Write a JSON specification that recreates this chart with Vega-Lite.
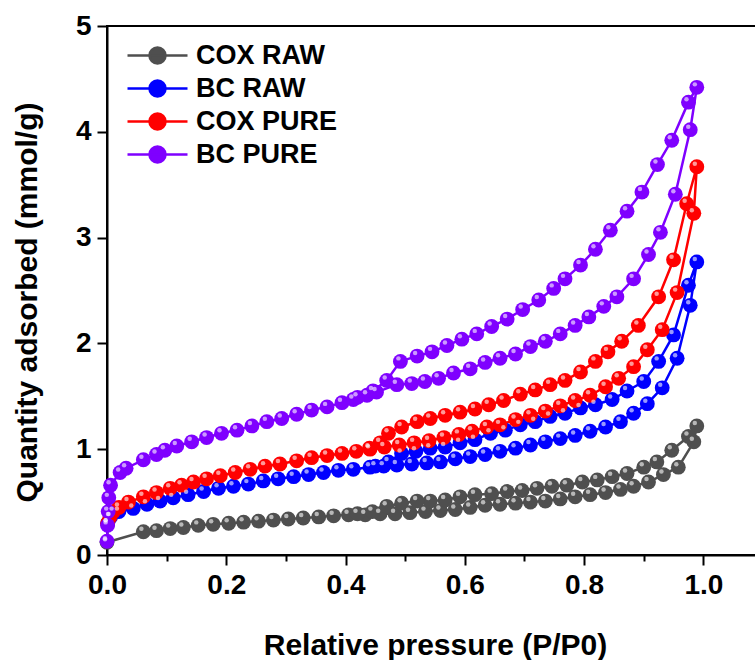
{
"$schema":"https://vega.github.io/schema/vega-lite/v6.json",
"width":656,"height":529,
"autosize":{"type":"none"},
"padding":{"left":107,"top":26,"right":0,"bottom":105},
"background":"white",
"datasets":{"iso":[
{"s":"COX RAW","o":1,"x":0.000,"y":0.12},{"s":"COX RAW","o":2,"x":0.061,"y":0.22},{"s":"COX RAW","o":3,"x":0.083,"y":0.23},{"s":"COX RAW","o":4,"x":0.106,"y":0.25},{"s":"COX RAW","o":5,"x":0.128,"y":0.26},{"s":"COX RAW","o":6,"x":0.153,"y":0.28},{"s":"COX RAW","o":7,"x":0.178,"y":0.29},{"s":"COX RAW","o":8,"x":0.204,"y":0.30},{"s":"COX RAW","o":9,"x":0.229,"y":0.31},{"s":"COX RAW","o":10,"x":0.254,"y":0.32},{"s":"COX RAW","o":11,"x":0.279,"y":0.33},{"s":"COX RAW","o":12,"x":0.304,"y":0.34},{"s":"COX RAW","o":13,"x":0.329,"y":0.35},{"s":"COX RAW","o":14,"x":0.355,"y":0.36},{"s":"COX RAW","o":15,"x":0.380,"y":0.37},{"s":"COX RAW","o":16,"x":0.405,"y":0.38},{"s":"COX RAW","o":17,"x":0.433,"y":0.38},{"s":"COX RAW","o":18,"x":0.458,"y":0.39},{"s":"COX RAW","o":19,"x":0.483,"y":0.39},{"s":"COX RAW","o":20,"x":0.508,"y":0.40},{"s":"COX RAW","o":21,"x":0.534,"y":0.41},{"s":"COX RAW","o":22,"x":0.559,"y":0.42},{"s":"COX RAW","o":23,"x":0.584,"y":0.43},{"s":"COX RAW","o":24,"x":0.609,"y":0.45},{"s":"COX RAW","o":25,"x":0.634,"y":0.47},{"s":"COX RAW","o":26,"x":0.659,"y":0.48},{"s":"COX RAW","o":27,"x":0.685,"y":0.49},{"s":"COX RAW","o":28,"x":0.710,"y":0.50},{"s":"COX RAW","o":29,"x":0.735,"y":0.51},{"s":"COX RAW","o":30,"x":0.760,"y":0.53},{"s":"COX RAW","o":31,"x":0.785,"y":0.55},{"s":"COX RAW","o":32,"x":0.810,"y":0.57},{"s":"COX RAW","o":33,"x":0.836,"y":0.59},{"s":"COX RAW","o":34,"x":0.861,"y":0.62},{"s":"COX RAW","o":35,"x":0.883,"y":0.65},{"s":"COX RAW","o":36,"x":0.908,"y":0.69},{"s":"COX RAW","o":37,"x":0.933,"y":0.76},{"s":"COX RAW","o":38,"x":0.958,"y":0.83},{"s":"COX RAW","o":39,"x":0.984,"y":1.07},{"s":"COX RAW","o":40,"x":0.989,"y":1.22},
{"s":"COX RAW","o":41,"x":0.975,"y":1.12},{"s":"COX RAW","o":42,"x":0.947,"y":0.99},{"s":"COX RAW","o":43,"x":0.922,"y":0.88},{"s":"COX RAW","o":44,"x":0.900,"y":0.83},{"s":"COX RAW","o":45,"x":0.872,"y":0.77},{"s":"COX RAW","o":46,"x":0.847,"y":0.74},{"s":"COX RAW","o":47,"x":0.822,"y":0.71},{"s":"COX RAW","o":48,"x":0.797,"y":0.69},{"s":"COX RAW","o":49,"x":0.771,"y":0.66},{"s":"COX RAW","o":50,"x":0.746,"y":0.65},{"s":"COX RAW","o":51,"x":0.721,"y":0.63},{"s":"COX RAW","o":52,"x":0.696,"y":0.61},{"s":"COX RAW","o":53,"x":0.671,"y":0.60},{"s":"COX RAW","o":54,"x":0.645,"y":0.58},{"s":"COX RAW","o":55,"x":0.617,"y":0.57},{"s":"COX RAW","o":56,"x":0.592,"y":0.55},{"s":"COX RAW","o":57,"x":0.567,"y":0.52},{"s":"COX RAW","o":58,"x":0.542,"y":0.51},{"s":"COX RAW","o":59,"x":0.520,"y":0.51},{"s":"COX RAW","o":60,"x":0.494,"y":0.49},{"s":"COX RAW","o":61,"x":0.469,"y":0.46},{"s":"COX RAW","o":62,"x":0.445,"y":0.41},{"s":"COX RAW","o":63,"x":0.420,"y":0.39},
{"s":"BC RAW","o":1,"x":0.001,"y":0.30},{"s":"BC RAW","o":2,"x":0.006,"y":0.36},{"s":"BC RAW","o":3,"x":0.020,"y":0.41},{"s":"BC RAW","o":4,"x":0.044,"y":0.44},{"s":"BC RAW","o":5,"x":0.067,"y":0.48},{"s":"BC RAW","o":6,"x":0.089,"y":0.51},{"s":"BC RAW","o":7,"x":0.111,"y":0.54},{"s":"BC RAW","o":8,"x":0.136,"y":0.57},{"s":"BC RAW","o":9,"x":0.162,"y":0.60},{"s":"BC RAW","o":10,"x":0.187,"y":0.63},{"s":"BC RAW","o":11,"x":0.212,"y":0.65},{"s":"BC RAW","o":12,"x":0.237,"y":0.67},{"s":"BC RAW","o":13,"x":0.262,"y":0.70},{"s":"BC RAW","o":14,"x":0.287,"y":0.72},{"s":"BC RAW","o":15,"x":0.313,"y":0.74},{"s":"BC RAW","o":16,"x":0.338,"y":0.76},{"s":"BC RAW","o":17,"x":0.363,"y":0.78},{"s":"BC RAW","o":18,"x":0.388,"y":0.80},{"s":"BC RAW","o":19,"x":0.413,"y":0.81},{"s":"BC RAW","o":20,"x":0.441,"y":0.83},{"s":"BC RAW","o":21,"x":0.464,"y":0.84},{"s":"BC RAW","o":22,"x":0.486,"y":0.85},{"s":"BC RAW","o":23,"x":0.511,"y":0.86},{"s":"BC RAW","o":24,"x":0.536,"y":0.87},{"s":"BC RAW","o":25,"x":0.559,"y":0.88},{"s":"BC RAW","o":26,"x":0.584,"y":0.91},{"s":"BC RAW","o":27,"x":0.609,"y":0.93},{"s":"BC RAW","o":28,"x":0.634,"y":0.95},{"s":"BC RAW","o":29,"x":0.659,"y":0.98},{"s":"BC RAW","o":30,"x":0.685,"y":1.01},{"s":"BC RAW","o":31,"x":0.710,"y":1.04},{"s":"BC RAW","o":32,"x":0.735,"y":1.07},{"s":"BC RAW","o":33,"x":0.760,"y":1.10},{"s":"BC RAW","o":34,"x":0.785,"y":1.13},{"s":"BC RAW","o":35,"x":0.810,"y":1.17},{"s":"BC RAW","o":36,"x":0.836,"y":1.21},{"s":"BC RAW","o":37,"x":0.861,"y":1.26},{"s":"BC RAW","o":38,"x":0.883,"y":1.34},{"s":"BC RAW","o":39,"x":0.906,"y":1.43},{"s":"BC RAW","o":40,"x":0.931,"y":1.58},{"s":"BC RAW","o":41,"x":0.956,"y":1.86},{"s":"BC RAW","o":42,"x":0.978,"y":2.36},{"s":"BC RAW","o":43,"x":0.989,"y":2.77},
{"s":"BC RAW","o":44,"x":0.975,"y":2.55},{"s":"BC RAW","o":45,"x":0.950,"y":2.08},{"s":"BC RAW","o":46,"x":0.925,"y":1.83},{"s":"BC RAW","o":47,"x":0.900,"y":1.64},{"s":"BC RAW","o":48,"x":0.872,"y":1.55},{"s":"BC RAW","o":49,"x":0.847,"y":1.47},{"s":"BC RAW","o":50,"x":0.819,"y":1.42},{"s":"BC RAW","o":51,"x":0.794,"y":1.39},{"s":"BC RAW","o":52,"x":0.768,"y":1.34},{"s":"BC RAW","o":53,"x":0.743,"y":1.31},{"s":"BC RAW","o":54,"x":0.718,"y":1.26},{"s":"BC RAW","o":55,"x":0.693,"y":1.23},{"s":"BC RAW","o":56,"x":0.668,"y":1.18},{"s":"BC RAW","o":57,"x":0.643,"y":1.15},{"s":"BC RAW","o":58,"x":0.617,"y":1.09},{"s":"BC RAW","o":59,"x":0.592,"y":1.06},{"s":"BC RAW","o":60,"x":0.567,"y":1.02},{"s":"BC RAW","o":61,"x":0.542,"y":1.01},{"s":"BC RAW","o":62,"x":0.518,"y":0.98},{"s":"BC RAW","o":63,"x":0.494,"y":0.96},{"s":"BC RAW","o":64,"x":0.472,"y":0.88},{"s":"BC RAW","o":65,"x":0.450,"y":0.84},
{"s":"COX PURE","o":1,"x":0.001,"y":0.30},{"s":"COX PURE","o":2,"x":0.005,"y":0.36},{"s":"COX PURE","o":3,"x":0.011,"y":0.41},{"s":"COX PURE","o":4,"x":0.020,"y":0.45},{"s":"COX PURE","o":5,"x":0.036,"y":0.50},{"s":"COX PURE","o":6,"x":0.061,"y":0.55},{"s":"COX PURE","o":7,"x":0.083,"y":0.59},{"s":"COX PURE","o":8,"x":0.106,"y":0.63},{"s":"COX PURE","o":9,"x":0.125,"y":0.66},{"s":"COX PURE","o":10,"x":0.145,"y":0.69},{"s":"COX PURE","o":11,"x":0.167,"y":0.72},{"s":"COX PURE","o":12,"x":0.190,"y":0.75},{"s":"COX PURE","o":13,"x":0.215,"y":0.78},{"s":"COX PURE","o":14,"x":0.240,"y":0.81},{"s":"COX PURE","o":15,"x":0.265,"y":0.84},{"s":"COX PURE","o":16,"x":0.290,"y":0.86},{"s":"COX PURE","o":17,"x":0.318,"y":0.89},{"s":"COX PURE","o":18,"x":0.343,"y":0.92},{"s":"COX PURE","o":19,"x":0.369,"y":0.94},{"s":"COX PURE","o":20,"x":0.394,"y":0.96},{"s":"COX PURE","o":21,"x":0.418,"y":0.98},{"s":"COX PURE","o":22,"x":0.441,"y":1.00},{"s":"COX PURE","o":23,"x":0.465,"y":1.02},{"s":"COX PURE","o":24,"x":0.490,"y":1.04},{"s":"COX PURE","o":25,"x":0.515,"y":1.06},{"s":"COX PURE","o":26,"x":0.540,"y":1.08},{"s":"COX PURE","o":27,"x":0.565,"y":1.11},{"s":"COX PURE","o":28,"x":0.590,"y":1.14},{"s":"COX PURE","o":29,"x":0.612,"y":1.17},{"s":"COX PURE","o":30,"x":0.637,"y":1.21},{"s":"COX PURE","o":31,"x":0.659,"y":1.23},{"s":"COX PURE","o":32,"x":0.685,"y":1.28},{"s":"COX PURE","o":33,"x":0.710,"y":1.32},{"s":"COX PURE","o":34,"x":0.735,"y":1.36},{"s":"COX PURE","o":35,"x":0.760,"y":1.41},{"s":"COX PURE","o":36,"x":0.785,"y":1.46},{"s":"COX PURE","o":37,"x":0.810,"y":1.51},{"s":"COX PURE","o":38,"x":0.836,"y":1.59},{"s":"COX PURE","o":39,"x":0.858,"y":1.67},{"s":"COX PURE","o":40,"x":0.883,"y":1.78},{"s":"COX PURE","o":41,"x":0.906,"y":1.94},{"s":"COX PURE","o":42,"x":0.931,"y":2.13},{"s":"COX PURE","o":43,"x":0.956,"y":2.48},{"s":"COX PURE","o":44,"x":0.984,"y":3.23},{"s":"COX PURE","o":45,"x":0.989,"y":3.67},
{"s":"COX PURE","o":46,"x":0.972,"y":3.32},{"s":"COX PURE","o":47,"x":0.950,"y":2.79},{"s":"COX PURE","o":48,"x":0.925,"y":2.44},{"s":"COX PURE","o":49,"x":0.891,"y":2.17},{"s":"COX PURE","o":50,"x":0.863,"y":2.02},{"s":"COX PURE","o":51,"x":0.840,"y":1.92},{"s":"COX PURE","o":52,"x":0.819,"y":1.83},{"s":"COX PURE","o":53,"x":0.794,"y":1.73},{"s":"COX PURE","o":54,"x":0.768,"y":1.65},{"s":"COX PURE","o":55,"x":0.743,"y":1.61},{"s":"COX PURE","o":56,"x":0.718,"y":1.56},{"s":"COX PURE","o":57,"x":0.693,"y":1.52},{"s":"COX PURE","o":58,"x":0.665,"y":1.46},{"s":"COX PURE","o":59,"x":0.640,"y":1.42},{"s":"COX PURE","o":60,"x":0.617,"y":1.38},{"s":"COX PURE","o":61,"x":0.592,"y":1.35},{"s":"COX PURE","o":62,"x":0.567,"y":1.32},{"s":"COX PURE","o":63,"x":0.542,"y":1.29},{"s":"COX PURE","o":64,"x":0.520,"y":1.26},{"s":"COX PURE","o":65,"x":0.494,"y":1.21},{"s":"COX PURE","o":66,"x":0.472,"y":1.15},{"s":"COX PURE","o":67,"x":0.458,"y":1.06},{"s":"COX PURE","o":68,"x":0.440,"y":1.01},
{"s":"BC PURE","o":1,"x":0.000,"y":0.13},{"s":"BC PURE","o":2,"x":0.001,"y":0.28},{"s":"BC PURE","o":3,"x":0.002,"y":0.41},{"s":"BC PURE","o":4,"x":0.003,"y":0.54},{"s":"BC PURE","o":5,"x":0.006,"y":0.66},{"s":"BC PURE","o":6,"x":0.022,"y":0.78},{"s":"BC PURE","o":7,"x":0.032,"y":0.82},{"s":"BC PURE","o":8,"x":0.061,"y":0.90},{"s":"BC PURE","o":9,"x":0.083,"y":0.95},{"s":"BC PURE","o":10,"x":0.097,"y":0.99},{"s":"BC PURE","o":11,"x":0.117,"y":1.03},{"s":"BC PURE","o":12,"x":0.142,"y":1.07},{"s":"BC PURE","o":13,"x":0.167,"y":1.11},{"s":"BC PURE","o":14,"x":0.192,"y":1.15},{"s":"BC PURE","o":15,"x":0.218,"y":1.18},{"s":"BC PURE","o":16,"x":0.243,"y":1.22},{"s":"BC PURE","o":17,"x":0.268,"y":1.26},{"s":"BC PURE","o":18,"x":0.293,"y":1.29},{"s":"BC PURE","o":19,"x":0.318,"y":1.33},{"s":"BC PURE","o":20,"x":0.343,"y":1.37},{"s":"BC PURE","o":21,"x":0.369,"y":1.40},{"s":"BC PURE","o":22,"x":0.394,"y":1.44},{"s":"BC PURE","o":23,"x":0.413,"y":1.47},{"s":"BC PURE","o":24,"x":0.436,"y":1.51},{"s":"BC PURE","o":25,"x":0.452,"y":1.54},{"s":"BC PURE","o":26,"x":0.486,"y":1.61},{"s":"BC PURE","o":27,"x":0.511,"y":1.62},{"s":"BC PURE","o":28,"x":0.533,"y":1.64},{"s":"BC PURE","o":29,"x":0.556,"y":1.67},{"s":"BC PURE","o":30,"x":0.581,"y":1.72},{"s":"BC PURE","o":31,"x":0.609,"y":1.76},{"s":"BC PURE","o":32,"x":0.634,"y":1.82},{"s":"BC PURE","o":33,"x":0.659,"y":1.86},{"s":"BC PURE","o":34,"x":0.685,"y":1.90},{"s":"BC PURE","o":35,"x":0.710,"y":1.97},{"s":"BC PURE","o":36,"x":0.735,"y":2.02},{"s":"BC PURE","o":37,"x":0.760,"y":2.09},{"s":"BC PURE","o":38,"x":0.785,"y":2.17},{"s":"BC PURE","o":39,"x":0.808,"y":2.25},{"s":"BC PURE","o":40,"x":0.833,"y":2.35},{"s":"BC PURE","o":41,"x":0.855,"y":2.44},{"s":"BC PURE","o":42,"x":0.883,"y":2.61},{"s":"BC PURE","o":43,"x":0.908,"y":2.84},{"s":"BC PURE","o":44,"x":0.928,"y":3.05},{"s":"BC PURE","o":45,"x":0.953,"y":3.41},{"s":"BC PURE","o":46,"x":0.978,"y":4.02},{"s":"BC PURE","o":47,"x":0.989,"y":4.42},
{"s":"BC PURE","o":48,"x":0.975,"y":4.28},{"s":"BC PURE","o":49,"x":0.947,"y":3.92},{"s":"BC PURE","o":50,"x":0.923,"y":3.69},{"s":"BC PURE","o":51,"x":0.897,"y":3.43},{"s":"BC PURE","o":52,"x":0.872,"y":3.25},{"s":"BC PURE","o":53,"x":0.844,"y":3.07},{"s":"BC PURE","o":54,"x":0.819,"y":2.89},{"s":"BC PURE","o":55,"x":0.794,"y":2.74},{"s":"BC PURE","o":56,"x":0.768,"y":2.61},{"s":"BC PURE","o":57,"x":0.749,"y":2.52},{"s":"BC PURE","o":58,"x":0.724,"y":2.41},{"s":"BC PURE","o":59,"x":0.697,"y":2.32},{"s":"BC PURE","o":60,"x":0.671,"y":2.23},{"s":"BC PURE","o":61,"x":0.645,"y":2.16},{"s":"BC PURE","o":62,"x":0.620,"y":2.09},{"s":"BC PURE","o":63,"x":0.595,"y":2.04},{"s":"BC PURE","o":64,"x":0.570,"y":1.98},{"s":"BC PURE","o":65,"x":0.545,"y":1.92},{"s":"BC PURE","o":66,"x":0.520,"y":1.88},{"s":"BC PURE","o":67,"x":0.492,"y":1.83},{"s":"BC PURE","o":68,"x":0.469,"y":1.65},{"s":"BC PURE","o":69,"x":0.446,"y":1.55},{"s":"BC PURE","o":70,"x":0.420,"y":1.49}
]},
"data":{"name":"iso"},
"encoding":{
 "x":{"field":"x","type":"quantitative","scale":{"domain":[0,1.1],"nice":false,"zero":false},
  "axis":{"title":"Relative pressure (P/P0)","values":[0,0.1,0.2,0.3,0.4,0.5,0.6,0.7,0.8,0.9,1.0],"format":".1f",
   "labelExpr":"round(datum.value*10)%2==0 ? datum.label : ''",
   "tickSize":{"condition":{"test":"round(datum.value*10)%2==0","value":10},"value":6},
   "labelPadding":6,"titlePadding":31,"labelFlush":false,"labelOverlap":false}},
 "y":{"field":"y","type":"quantitative","scale":{"domain":[0,5],"nice":false,"zero":false},
  "axis":{"title":"Quantity adsorbed (mmol/g)","values":[0,0.5,1,1.5,2,2.5,3,3.5,4,4.5,5],"format":"d",
   "labelExpr":"round(datum.value*2)%2==0 ? format(datum.value,'d') : ''",
   "tickSize":{"condition":{"test":"round(datum.value*2)%2==0","value":10},"value":6},
   "labelPadding":6,"titleX":-65,"titleY":276,"labelFlush":false,"labelOverlap":false}},
 "color":{"field":"s","type":"nominal",
  "scale":{"domain":["COX RAW","BC RAW","COX PURE","BC PURE"],"range":["#4f4f4f","#0000ff","#ff0000","#7f00ff"]},
  "legend":{"orient":"none","legendX":37,"legendY":16,"title":null,
   "symbolType":"M-4,0H4M-1.07,0A1.07,1.07,0,1,1,1.07,0A1.07,1.07,0,1,1,-1.07,0Z",
   "symbolSize":225,"symbolStrokeWidth":2.5,"symbolOpacity":1,
   "labelFont":"Liberation Sans","labelFontWeight":"bold","labelFontSize":27,"labelColor":"black",
   "labelOffset":25,"rowPadding":5,
   "encode":{"symbols":{"update":{"fill":{"scale":"color","field":"value"},"stroke":{"scale":"color","field":"value"},"opacity":{"value":1}}}}}}
},
"layer":[
 {"mark":{"type":"line","strokeWidth":2.5},"encoding":{"order":{"field":"o","type":"quantitative"}}},
 {"mark":{"type":"point","filled":true,"size":220,"opacity":1,"shape":"circle"}},
 {"mark":{"type":"point","filled":true,"size":20,"opacity":0.6,"shape":"circle","xOffset":-2,"yOffset":-3},"encoding":{"color":{"value":"white"}}}
],
"config":{
 "font":"Liberation Sans",
 "view":{"stroke":"black","strokeWidth":2},
 "axis":{"grid":false,"domainColor":"black","domainWidth":2,"tickColor":"black","tickWidth":2,
  "labelFont":"Liberation Sans","labelFontWeight":"bold","labelFontSize":28,"labelColor":"black",
  "titleFont":"Liberation Sans","titleFontWeight":"bold","titleFontSize":30,"titleColor":"black"}
}
}
